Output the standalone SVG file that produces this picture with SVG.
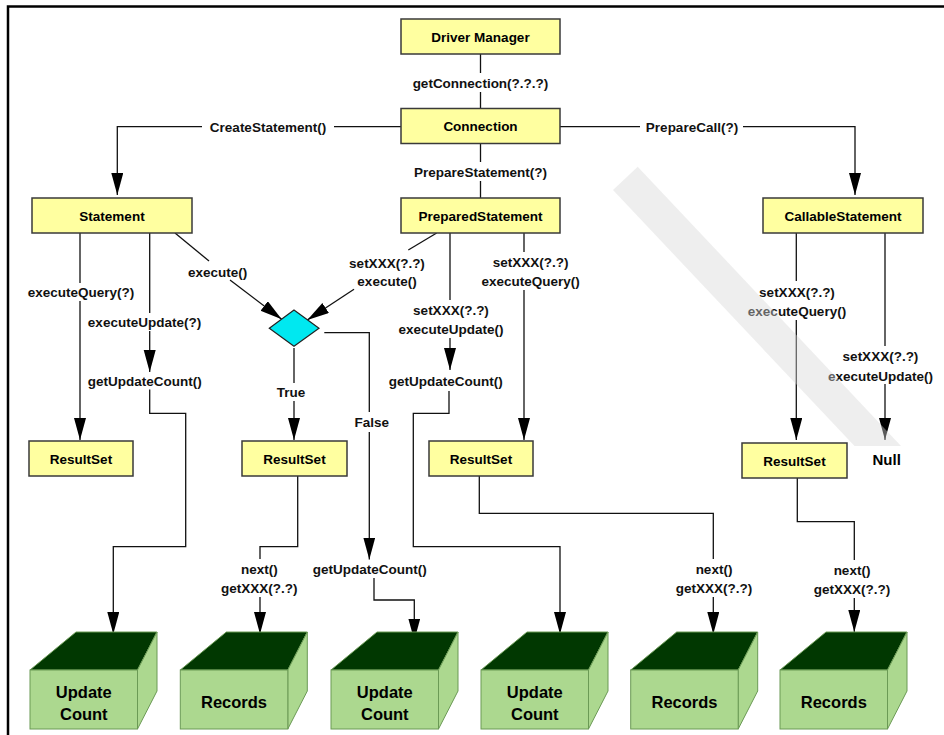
<svg xmlns="http://www.w3.org/2000/svg" width="944" height="735" viewBox="0 0 944 735">
<defs>
<marker id="ah" markerUnits="userSpaceOnUse" markerWidth="24" markerHeight="14" refX="22" refY="6" orient="auto">
<path d="M0,0 L22,6 L0,12 z" fill="#000"/>
</marker>
<style>
.box{fill:#ffffa0;stroke:#3a3a3a;stroke-width:1.5}
.bt{font-family:"Liberation Sans",Arial,sans-serif;font-weight:bold;font-size:13.5px;fill:#000;text-anchor:middle}
.lb{font-family:"Liberation Sans",Arial,sans-serif;font-weight:bold;font-size:13.5px;fill:#111;text-anchor:middle}
.ct{font-family:"Liberation Sans",Arial,sans-serif;font-weight:bold;font-size:16.5px;fill:#000;text-anchor:middle}
.c{fill:none;stroke:#111;stroke-width:1.3}
.ca{fill:none;stroke:#111;stroke-width:1.3;marker-end:url(#ah)}
.front{fill:#acd88f;stroke:#6b9a55;stroke-width:1}
.top{fill:#013801;stroke:#6b9a55;stroke-width:1}
.wm{fill:#d6d6d6;fill-opacity:0.42;stroke:none}
</style>
</defs>
<rect x="0" y="0" width="944" height="735" fill="#fff"/>
<path d="M8,735 V6.5 H944" fill="none" stroke="#000" stroke-width="2.5"/>

<g id="connectors">
<line class="c" x1="480.5" y1="54" x2="480.5" y2="73"/>
<line class="c" x1="480.5" y1="92" x2="480.5" y2="108"/>
<path class="c" d="M401,126.7 H334"/>
<path class="ca" d="M202,126.7 H117.3 V195"/>
<path class="c" d="M560,126.7 H640"/>
<path class="ca" d="M743,126.7 H855 V195"/>
<line class="c" x1="480.5" y1="143" x2="480.5" y2="162"/>
<line class="c" x1="480.5" y1="181" x2="480.5" y2="198"/>
<line class="c" x1="80" y1="233" x2="80" y2="283"/>
<line class="ca" x1="80" y1="301" x2="80" y2="440"/>
<line class="c" x1="149.7" y1="233" x2="149.7" y2="313"/>
<line class="ca" x1="149.7" y1="331" x2="149.7" y2="372"/>
<path class="ca" d="M149.7,389.5 V413.3 H185.7 V546.7 H113.3 V634"/>
<line class="c" x1="175" y1="233" x2="209" y2="261"/>
<line class="ca" x1="230" y1="280" x2="281.7" y2="319.3"/>
<line class="c" x1="436.7" y1="233" x2="408.3" y2="250"/>
<line class="ca" x1="354" y1="289.3" x2="307.3" y2="320"/>
<line class="c" x1="294" y1="348" x2="294" y2="383"/>
<line class="ca" x1="294" y1="401" x2="294" y2="440"/>
<path class="c" d="M324.3,332.7 H369.3 V412"/>
<line class="ca" x1="369.3" y1="432" x2="369.3" y2="559.5"/>
<path class="ca" d="M374,578 V600 H414.3 V640.5"/>
<line class="c" x1="450" y1="233" x2="450" y2="300"/>
<line class="ca" x1="450" y1="338" x2="450" y2="370"/>
<path class="ca" d="M449,391 V413.3 H413.3 V546.7 H560 V634"/>
<line class="c" x1="524" y1="233" x2="524" y2="252"/>
<line class="ca" x1="524" y1="290" x2="524" y2="440"/>
<path class="c" d="M297.7,476 V546.7 H260 V559"/>
<line class="ca" x1="260" y1="597" x2="260" y2="634"/>
<path class="c" d="M479.3,476 V513.3 H713.3 V559"/>
<line class="ca" x1="713.3" y1="597" x2="713.3" y2="634"/>
<line class="c" x1="796.3" y1="233" x2="796.3" y2="281"/>
<line class="ca" x1="796.3" y1="320" x2="796.3" y2="440"/>
<line class="c" x1="885" y1="233" x2="885" y2="346"/>
<line class="ca" x1="885" y1="384" x2="885" y2="440"/>
<path class="c" d="M797.3,478 V521.7 H854.3 V560"/>
<line class="ca" x1="854.3" y1="598" x2="854.3" y2="632"/>

<g id="connector-labels">
<text class="lb" x="480.5" y="87.5">getConnection(?.?.?)</text>
<text class="lb" x="268" y="131.5">CreateStatement()</text>
<text class="lb" x="692" y="131.5">PrepareCall(?)</text>
<text class="lb" x="480.5" y="176.5">PrepareStatement(?)</text>
<text class="lb" x="81" y="297">executeQuery(?)</text>
<text class="lb" x="144.5" y="326.5">executeUpdate(?)</text>
<text class="lb" x="144.8" y="385.5">getUpdateCount()</text>
<text class="lb" x="217.7" y="276.5">execute()</text>
<text class="lb" x="387" y="268">setXXX(?.?)</text>
<text class="lb" x="387" y="286">execute()</text>
<text class="lb" x="291" y="397">True</text>
<text class="lb" x="371.7" y="427">False</text>
<text class="lb" x="369.7" y="574">getUpdateCount()</text>
<text class="lb" x="451" y="315">setXXX(?.?)</text>
<text class="lb" x="451" y="334">executeUpdate()</text>
<text class="lb" x="445.8" y="385.5">getUpdateCount()</text>
<text class="lb" x="530.7" y="267">setXXX(?.?)</text>
<text class="lb" x="530.7" y="286">executeQuery()</text>
<text class="lb" x="259.3" y="574">next()</text>
<text class="lb" x="259.3" y="593">getXXX(?.?)</text>
<text class="lb" x="714" y="574">next()</text>
<text class="lb" x="714" y="593">getXXX(?.?)</text>
<text class="lb" x="797" y="296.5">setXXX(?.?)</text>
<text class="lb" x="797" y="316">executeQuery()</text>
<text class="lb" x="880.5" y="361">setXXX(?.?)</text>
<text class="lb" x="880.5" y="380.5">executeUpdate()</text>
<text class="lb" x="852" y="575">next()</text>
<text class="lb" x="852" y="594">getXXX(?.?)</text>
</g>
</g>

<g id="driver-manager"><rect class="box" x="401" y="19" width="159" height="35"/><text class="bt" x="480.5" y="41.5">Driver Manager</text></g>
<g id="connection"><rect class="box" x="401" y="108.5" width="159" height="35"/><text class="bt" x="480.5" y="131">Connection</text></g>
<g id="statement"><rect class="box" x="32" y="198" width="160" height="35"/><text class="bt" x="112" y="221">Statement</text></g>
<g id="prepared-statement"><rect class="box" x="401" y="198" width="159" height="35"/><text class="bt" x="480.5" y="221">PreparedStatement</text></g>
<g id="callable-statement"><rect class="box" x="763" y="198" width="160" height="35"/><text class="bt" x="843" y="221">CallableStatement</text></g>
<g id="decision"><polygon points="269.3,328.3 294,310 319,328.3 294,346.3" fill="#00e8f0" stroke="#222" stroke-width="1.2"/></g>
<g id="resultset-1"><rect class="box" x="29" y="441" width="104" height="35"/><text class="bt" x="81" y="464">ResultSet</text></g>
<g id="resultset-2"><rect class="box" x="242" y="441" width="105" height="35"/><text class="bt" x="294.5" y="464">ResultSet</text></g>
<g id="resultset-3"><rect class="box" x="429" y="441" width="104" height="35"/><text class="bt" x="481" y="464">ResultSet</text></g>
<g id="resultset-4"><rect class="box" x="742" y="443" width="105" height="35"/><text class="bt" x="794.5" y="466">ResultSet</text></g>
<g id="null"><text class="ct" x="886.7" y="464.5" style="font-size:15px">Null</text></g>

<g id="update-count-1">
<polygon class="top" points="30,670 76,632 157,632 137.5,670"/>
<polygon class="front" points="137.5,670 157,632 157,691 137.5,729"/>
<rect class="front" x="30" y="670" width="107.5" height="59"/>
<text class="ct" x="83.8" y="697.5">Update</text><text class="ct" x="83.8" y="720">Count</text>
</g>
<g id="records-1">
<polygon class="top" points="180.3,670 226.3,632 307.3,632 287.8,670"/>
<polygon class="front" points="287.8,670 307.3,632 307.3,691 287.8,729"/>
<rect class="front" x="180.3" y="670" width="107.5" height="59"/>
<text class="ct" x="234" y="708">Records</text>
</g>
<g id="update-count-2">
<polygon class="top" points="331,670 377,632 458,632 438.5,670"/>
<polygon class="front" points="438.5,670 458,632 458,691 438.5,729"/>
<rect class="front" x="331" y="670" width="107.5" height="59"/>
<text class="ct" x="384.8" y="697.5">Update</text><text class="ct" x="384.8" y="720">Count</text>
</g>
<g id="update-count-3">
<polygon class="top" points="481,670 527,632 608,632 588.5,670"/>
<polygon class="front" points="588.5,670 608,632 608,691 588.5,729"/>
<rect class="front" x="481" y="670" width="107.5" height="59"/>
<text class="ct" x="534.8" y="697.5">Update</text><text class="ct" x="534.8" y="720">Count</text>
</g>
<g id="records-2">
<polygon class="top" points="630.7,670 676.7,632 757.7,632 738.2,670"/>
<polygon class="front" points="738.2,670 757.7,632 757.7,691 738.2,729"/>
<rect class="front" x="630.7" y="670" width="107.5" height="59"/>
<text class="ct" x="684.5" y="708">Records</text>
</g>
<g id="records-3">
<polygon class="top" points="780,670 826,632 907,632 887.5,670"/>
<polygon class="front" points="887.5,670 907,632 907,691 887.5,729"/>
<rect class="front" x="780" y="670" width="107.5" height="59"/>
<text class="ct" x="833.8" y="708">Records</text>
</g>

<g id="watermark">
<polygon class="wm" points="613,190 637.7,166.7 901,446 854.5,446"/>
</g>
</svg>
